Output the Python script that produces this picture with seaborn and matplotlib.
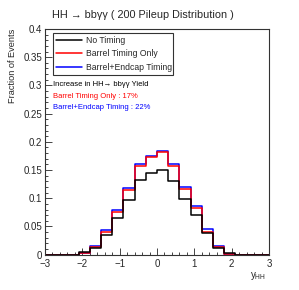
import numpy as np
import pandas as pd
import matplotlib
matplotlib.use('Agg')
import matplotlib.pyplot as plt
import seaborn as sns
from matplotlib.ticker import MultipleLocator
from matplotlib.lines import Line2D

# bin edges of y_HH histogram
edges = [round(-3.0 + 0.3 * i, 2) for i in range(21)]
centers = [(a + b) / 2 for a, b in zip(edges[:-1], edges[1:])]

# fraction of events per bin
no_timing = [0, 0, 0, 0.004, 0.012, 0.035, 0.065, 0.097, 0.132, 0.144,
             0.151, 0.131, 0.099, 0.071, 0.038, 0.012, 0.003, 0, 0, 0]
barrel_only = [0, 0, 0, 0.003, 0.014, 0.040, 0.075, 0.114, 0.158, 0.173,
               0.182, 0.157, 0.116, 0.083, 0.041, 0.014, 0.002, 0, 0, 0]
barrel_endcap = [0, 0, 0, 0.003, 0.016, 0.043, 0.080, 0.119, 0.160, 0.1755,
                 0.184, 0.160, 0.120, 0.087, 0.046, 0.015, 0.002, 0, 0, 0]

labels = ['No Timing', 'Barrel Timing Only', 'Barrel+Endcap Timing']
colors = ['black', '#ff0000', '#0000ff']

sns.set_style('ticks')
plt.rcParams['font.family'] = ['Liberation Sans', 'DejaVu Sans']
plt.rcParams['mathtext.fontset'] = 'custom'
plt.rcParams['mathtext.rm'] = 'Liberation Sans'
plt.rcParams['mathtext.it'] = 'Liberation Sans'

fig = plt.figure(figsize=(2.99, 2.90), dpi=100)
ax = fig.add_axes([0.1505, 0.1217, 0.7492, 0.7783])

# draw blue first, black on top
series = [barrel_endcap, barrel_only, no_timing]
cols = [colors[2], colors[1], colors[0]]
for vals, c in zip(series, cols):
    df = pd.DataFrame({'y': centers, 'w': vals})
    sns.histplot(data=df, x='y', weights='w', bins=edges, element='step',
                 fill=False, color=c, linewidth=1.1, ax=ax)

ax.set_xlim(-3, 3)
ax.set_ylim(0, 0.4)
ax.xaxis.set_minor_locator(MultipleLocator(0.2))
ax.yaxis.set_minor_locator(MultipleLocator(0.01))
ax.set_yticks([0, 0.05, 0.1, 0.15, 0.2, 0.25, 0.3, 0.35, 0.4])
ax.set_yticklabels(['0', '0.05', '0.1', '0.15', '0.2', '0.25', '0.3', '0.35', '0.4'])
ax.set_xticks([-3, -2, -1, 0, 1, 2, 3])
ax.set_xticklabels(['\u22123', '\u22122', '\u22121', '0', '1', '2', '3'])
ax.tick_params(which='both', direction='in', top=False, right=False,
               labelsize=7, width=0.6)
ax.tick_params(axis='y', pad=2)
ax.tick_params(axis='x', pad=3)
ax.tick_params(which='major', length=5)
ax.tick_params(which='minor', length=2.5)
for s in ax.spines.values():
    s.set_linewidth(0.8)
    s.set_color('#333333')

ax.set_ylabel('Fraction of Events', fontsize=6.6, loc='top')
ax.yaxis.set_label_coords(-0.125, 1.0)
ax.set_xlabel('')
ax.text(0.95, -0.095, '$y_{\\mathrm{HH}}$', transform=ax.transAxes,
        fontsize=7, ha='center', va='center')

fig.text(0.478, 0.948, 'HH \u2192 bb\u03b3\u03b3 ( 200 Pileup Distribution )',
         fontsize=7.8, ha='center', va='center')

handles = [Line2D([0], [0], color=c, lw=1.1) for c in colors]
leg = ax.legend(handles, labels, loc='upper left',
                bbox_to_anchor=(0.036, 0.805, 0.536, 0.177), mode='expand',
                borderaxespad=0, fontsize=6.2, frameon=True, fancybox=False,
                edgecolor='black', handlelength=3.0, handletextpad=0.5,
                labelspacing=0.5, borderpad=0.35)
leg.get_frame().set_linewidth(0.8)

ax.text(0.036, 0.752, 'Increase in HH\u2192 bb\u03b3\u03b3 Yield',
        transform=ax.transAxes, fontsize=5.5, va='center', color='black')
ax.text(0.036, 0.703, 'Barrel Timing Only : 17%',
        transform=ax.transAxes, fontsize=5.5, va='center', color='#ff0000')
ax.text(0.036, 0.650, 'Barrel+Endcap Timing : 22%',
        transform=ax.transAxes, fontsize=5.5, va='center', color='#0000ff')

fig.savefig('out.png', dpi=100)
